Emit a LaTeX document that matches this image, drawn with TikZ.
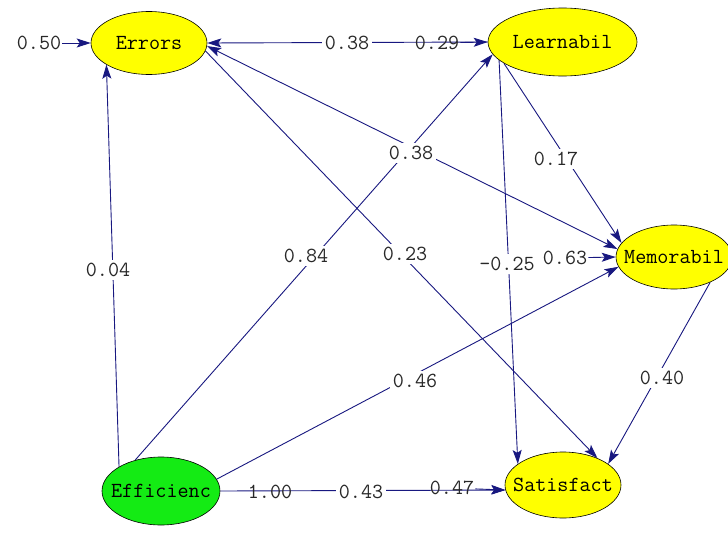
\documentclass[tikz,border=0pt]{standalone}
\usepackage{fontspec}
\usetikzlibrary{shapes.geometric,arrows.meta}
\definecolor{navyline}{RGB}{24,24,128}
\definecolor{lvyellow}{RGB}{255,255,0}
\definecolor{lvgreen}{RGB}{20,235,20}
\definecolor{lbltext}{RGB}{40,40,40}
\pgfdeclarelayer{bglayer}
\pgfdeclarelayer{linelayer}
\pgfsetlayers{bglayer,linelayer,main}
\begin{document}
\begin{tikzpicture}[x=1pt,y=-1pt,
  tip/.tip={Stealth[length=14pt,width=9pt,inset=3pt]},
  txt/.style={font=\ttfamily\fontsize{21.5}{24}\selectfont},
  lv/.style={ellipse, draw=black, line width=0.6pt, fill=lvyellow, inner sep=0pt},
  ntext/.style={txt, text=black, inner sep=0pt},
  lbl/.style={txt, text=lbltext, inner sep=1pt},
  cut/.style={lbl, fill=white, inner sep=3pt},
  conn/.style={draw=navyline, line width=0.9pt, -tip},
  biconn/.style={draw=navyline, line width=0.9pt, tip-tip}
]
\begin{pgfonlayer}{bglayer}
\fill[white] (0,0) rectangle (728,546);
\end{pgfonlayer}
\useasboundingbox (0,0) rectangle (728,546);

% latent variables
\node[lv, minimum width=116pt, minimum height=63pt,
      label={[ntext]center:Errors}] (err) at (149,43) {};
\node[lv, minimum width=149pt, minimum height=68pt,
      label={[ntext]center:Learnabil}] (lrn) at (562.5,42) {};
\node[lv, minimum width=116pt, minimum height=64pt,
      label={[ntext]center:Memorabil}] (mem) at (674,257) {};
\node[lv, minimum width=116pt, minimum height=66pt,
      label={[ntext]center:Satisfact}] (sat) at (563,485) {};
\node[lv, fill=lvgreen, minimum width=118pt, minimum height=68pt,
      label={[ntext]center:Efficienc}] (eff) at (161,491) {};

% error / variance labels
\node[lbl] (e50) at (39,43) {0.50};
\node[lbl] (e29) at (437,43) {0.29};
\node[lbl] (e63) at (565,258) {0.63};
\node[lbl] (e47) at (452,488) {0.47};
\node[lbl] (e100) at (270,492) {1.00};

% path coefficient labels
\node[cut] (c1) at (347,43) {0.38};
\node[cut] (c2) at (108,270) {0.04};
\node[cut] (c3) at (306,256) {0.84};
\node[cut] (c4) at (411,153) {0.38};
\node[cut] (c5) at (405,254) {0.23};
\node[cut] (c6) at (556,159) {0.17};
\node[cut] (c7) at (507,264) {-0.25};
\node[cut] (c8) at (415,381) {0.46};
\node[cut] (c9) at (662,378) {0.40};
\node[cut] (c10) at (361,492) {0.43};

\begin{pgfonlayer}{linelayer}
\draw[conn] (e50) -- (err.west);
\draw[conn] (lrn.west) -- (err.east);
\draw[conn] (e29) -- (lrn.west);
\draw[conn] (eff.150) -- (err.207);
\draw[conn] (eff.130) -- (lrn.190);
\draw[biconn] (err.-3) -- (mem.172);
\draw[conn] (err.-8) -- (sat.38);
\draw[conn] (lrn.200) -- (mem.165);
\draw[conn] (lrn.196) -- (sat.155);
\draw[conn] (e63) -- (mem.west);
\draw[conn] (eff.12) -- (mem.190);
\draw[conn] (mem.-35) -- (sat.25);
\draw[conn] (eff.east) -- (sat.185);
\draw[conn] (e47) -- (sat.185);
\end{pgfonlayer}
\end{tikzpicture}
\end{document}
